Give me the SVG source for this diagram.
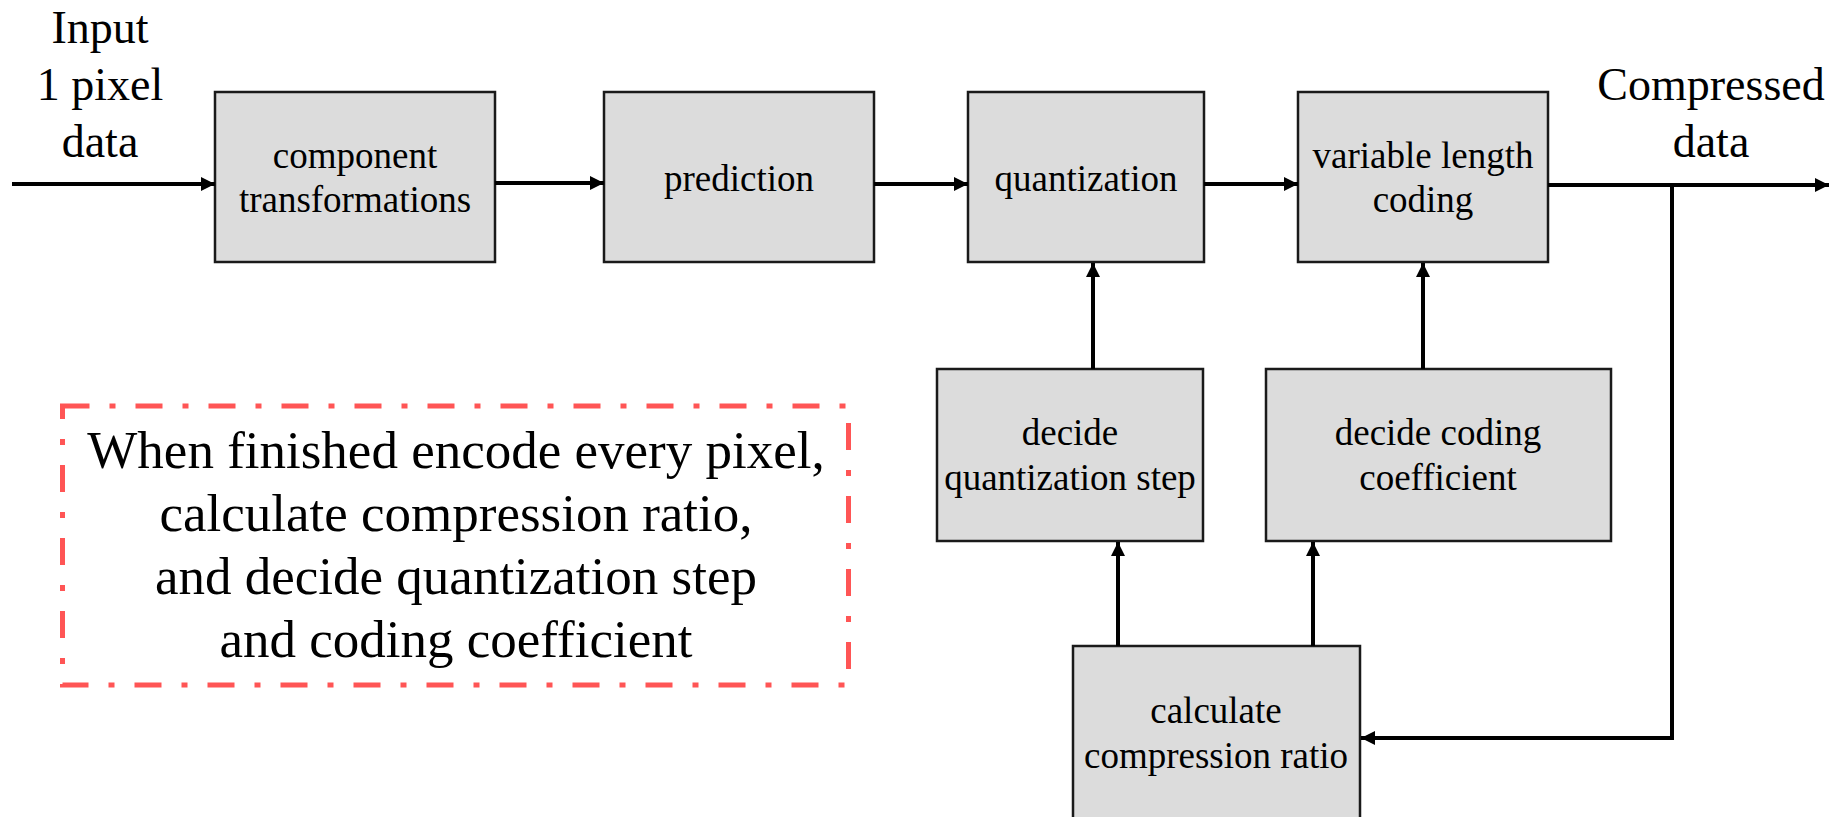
<svg xmlns="http://www.w3.org/2000/svg" width="1845" height="817" viewBox="0 0 1845 817">
<defs>
<marker id="ah" markerWidth="14" markerHeight="14" refX="14" refY="7" orient="auto" markerUnits="userSpaceOnUse">
<path d="M0,0 L14,7 L0,14 Z" fill="#000"/>
</marker>
<style>
.box{fill:#dcdcdc;stroke:#1a1a1a;stroke-width:2.5}
.bt{font-family:"Liberation Serif","Times New Roman",serif;font-size:37px;fill:#000;text-anchor:middle}
.lb{font-family:"Liberation Serif","Times New Roman",serif;font-size:46px;fill:#000;text-anchor:middle}
.note{font-family:"Liberation Serif","Times New Roman",serif;font-size:53px;fill:#000;text-anchor:middle}
.c{fill:none;stroke:#000;stroke-width:4}
</style>
</defs>
<rect width="1845" height="817" fill="#fff"/>

<g id="input-label">
<text class="lb" x="100" y="43">Input</text>
<text class="lb" x="100" y="100">1 pixel</text>
<text class="lb" x="100" y="157">data</text>
</g>
<g id="output-label">
<text class="lb" x="1711" y="100">Compressed</text>
<text class="lb" x="1711" y="157">data</text>
</g>

<g id="component">
<rect class="box" x="215" y="92" width="280" height="170"/>
<text class="bt" x="355" y="168">component</text>
<text class="bt" x="355" y="212">transformations</text>
</g>
<g id="prediction">
<rect class="box" x="604" y="92" width="270" height="170"/>
<text class="bt" x="739" y="191">prediction</text>
</g>
<g id="quantization">
<rect class="box" x="968" y="92" width="236" height="170"/>
<text class="bt" x="1086" y="191">quantization</text>
</g>
<g id="vlc">
<rect class="box" x="1298" y="92" width="250" height="170"/>
<text class="bt" x="1423" y="168">variable length</text>
<text class="bt" x="1423" y="212">coding</text>
</g>
<g id="decide-quant">
<rect class="box" x="937" y="369" width="266" height="172"/>
<text class="bt" x="1070" y="445">decide</text>
<text class="bt" x="1070" y="490">quantization step</text>
</g>
<g id="decide-coding">
<rect class="box" x="1266" y="369" width="345" height="172"/>
<text class="bt" x="1438" y="445">decide coding</text>
<text class="bt" x="1438" y="490">coefficient</text>
</g>
<g id="calc">
<rect class="box" x="1073" y="646" width="287" height="200"/>
<text class="bt" x="1216" y="723">calculate</text>
<text class="bt" x="1216" y="768">compression ratio</text>
</g>

<g id="note">
<rect x="62.5" y="406" width="786" height="279" fill="none" stroke="#ff5555" stroke-width="5" stroke-dasharray="27 20 6 20"/>
<text class="note" x="456" y="468">When finished encode every pixel,</text>
<text class="note" x="456" y="531">calculate compression ratio,</text>
<text class="note" x="456" y="594">and decide quantization step</text>
<text class="note" x="456" y="657">and coding coefficient</text>
</g>

<g id="connectors">
<line class="c" x1="12" y1="184" x2="215" y2="184" marker-end="url(#ah)"/>
<line class="c" x1="495" y1="183" x2="604" y2="183" marker-end="url(#ah)"/>
<line class="c" x1="874" y1="184" x2="968" y2="184" marker-end="url(#ah)"/>
<line class="c" x1="1204" y1="184" x2="1298" y2="184" marker-end="url(#ah)"/>
<line class="c" x1="1548" y1="185" x2="1829" y2="185" marker-end="url(#ah)"/>
<polyline class="c" points="1672,185 1672,738 1361,738" marker-end="url(#ah)"/>
<line class="c" x1="1093" y1="369" x2="1093" y2="263" marker-end="url(#ah)"/>
<line class="c" x1="1423" y1="369" x2="1423" y2="263" marker-end="url(#ah)"/>
<line class="c" x1="1118" y1="646" x2="1118" y2="542" marker-end="url(#ah)"/>
<line class="c" x1="1313" y1="646" x2="1313" y2="542" marker-end="url(#ah)"/>
</g>
</svg>
